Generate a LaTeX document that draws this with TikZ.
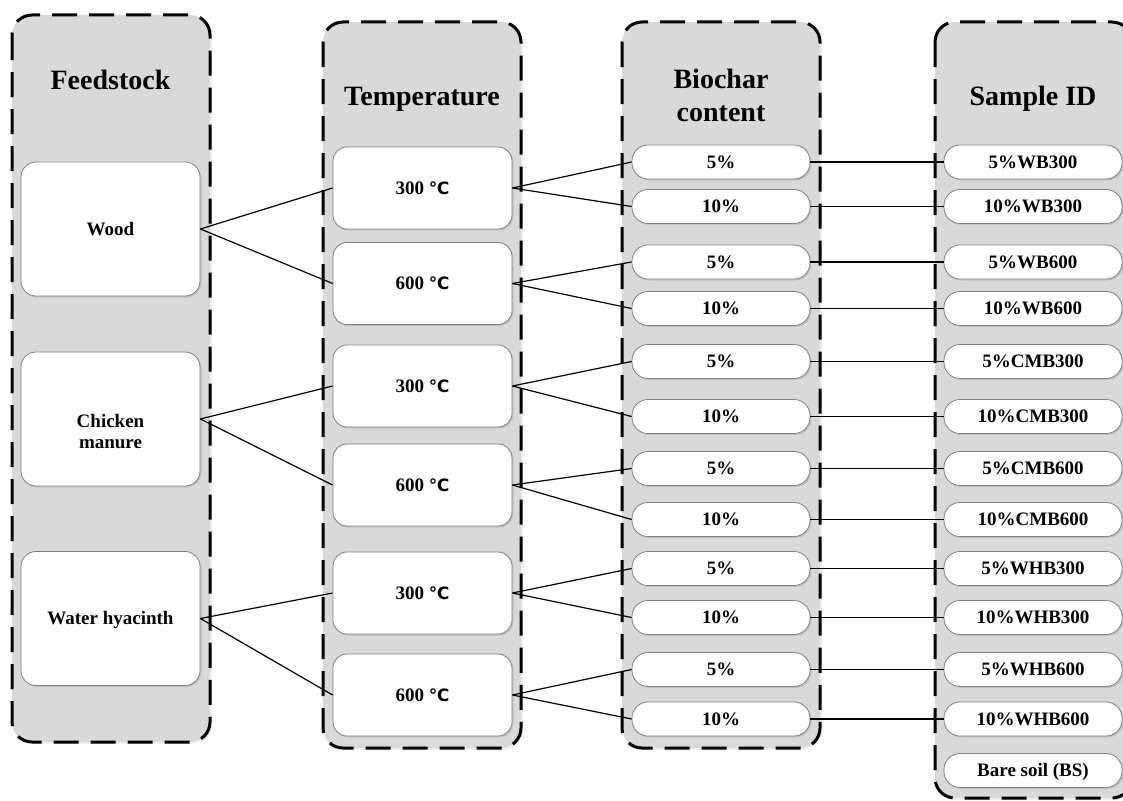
\documentclass[tikz,border=0pt]{standalone}
\usepackage{fontspec}
\setmainfont{Liberation Serif}
\newfontfamily\symfont{DejaVu Sans}
\usetikzlibrary{shadows}
\definecolor{colgray}{HTML}{D9D9D9}
\definecolor{boxline}{HTML}{808080}
\begin{document}
\begin{tikzpicture}[x=1pt,y=-1pt,
  colbg/.style={fill=colgray, draw=black, line width=3pt, dash pattern=on 25pt off 12pt,
    rounded corners=20pt, drop shadow={opacity=0.12, shadow xshift=2pt, shadow yshift=-2pt}},
  boxbase/.style={draw=boxline, fill=white, line width=0.8pt, inner sep=0pt,
    font=\fontsize{19}{22}\selectfont\bfseries, text height=12.6pt, text depth=0pt,
    drop shadow={opacity=0.25, shadow xshift=1.5pt, shadow yshift=-1.5pt}},
  fbox/.style={boxbase, rounded corners=15pt, minimum width=179pt, minimum height=134pt},
  tbox/.style={boxbase, rounded corners=14pt, minimum width=179pt, minimum height=82pt},
  pill/.style={boxbase, rounded corners=16pt, minimum width=178pt, minimum height=34pt},
  title/.style={font=\fontsize{28}{33}\selectfont\bfseries, anchor=base, inner sep=0pt},
  ftext/.style={font=\fontsize{19}{22}\selectfont\bfseries, anchor=base, inner sep=0pt},
  conn/.style={draw=black, line width=1.2pt}
]
\useasboundingbox (0,0) rectangle (1123,800);
\clip (0,0) rectangle (1123,800);

% columns
\path[colbg] (12,15) rectangle (210,742);
\path[colbg] (323,22) rectangle (521,748);
\path[colbg] (622,22) rectangle (820,748);
\path[colbg] (935,22) rectangle (1132,798);

% titles
\node[title] (tfeed) at (110.5,89) {Feedstock};
\node[title] (ttemp) at (422,105) {Temperature};
\node[title] (tbio1) at (721,88) {Biochar};
\node[title] (tbio2) at (721,121) {content};
\node[title] (tsid) at (1033,105) {Sample ID};

% feedstock boxes
\node[fbox] (wood) at (110.5,229) {Wood};
\node[fbox] (chicken) at (110.5,419) {};
\node[ftext] (chk1) at (110.5,427) {Chicken};
\node[ftext] (chk2) at (110.5,448) {manure};
\node[fbox] (water) at (110.5,618.5) {Water hyacinth};

% temperature boxes
\foreach \i/\y/\t in {1/188/300,2/283.5/600,3/386/300,4/485/600,5/593/300,6/695/600}
  \node[tbox] (t\i) at (422.5,\y) {\t\ {\symfont\fontsize{17}{20}\selectfont ℃}};

% biochar content pills
\foreach \i/\y/\lab in {1/162/5\%,2/206.5/10\%,3/262/5\%,4/308.5/10\%,5/361.5/5\%,6/416.5/10\%,
  7/468.5/5\%,8/519.5/10\%,9/568.5/5\%,10/617.5/10\%,11/669.5/5\%,12/719/10\%}
  \node[pill] (b\i) at (721,\y) {\lab};

% sample ID pills
\foreach \i/\y/\lab in {1/162/5\%WB300,2/206.5/10\%WB300,3/262/5\%WB600,4/308.5/10\%WB600,
  5/361.5/5\%CMB300,6/416.5/10\%CMB300,7/468.5/5\%CMB600,8/519.5/10\%CMB600,
  9/568.5/5\%WHB300,10/617.5/10\%WHB300,11/669.5/5\%WHB600,12/719/10\%WHB600,13/770.5/Bare soil (BS)}
  \node[pill] (s\i) at (1033,\y) {\lab};

% connectors
\draw[conn] (wood.east) -- (t1.west);
\draw[conn] (wood.east) -- (t2.west);
\draw[conn] (chicken.east) -- (t3.west);
\draw[conn] (chicken.east) -- (t4.west);
\draw[conn] (water.east) -- (t5.west);
\draw[conn] (water.east) -- (t6.west);
\foreach \i in {1,...,6}{
  \pgfmathtruncatemacro\ba{2*\i-1}
  \pgfmathtruncatemacro\bb{2*\i}
  \draw[conn] (t\i.east) -- (b\ba.west);
  \draw[conn] (t\i.east) -- (b\bb.west);
}
\foreach \i in {1,...,12}
  \draw[conn] (b\i.east) -- (s\i.west);
\end{tikzpicture}
\end{document}
